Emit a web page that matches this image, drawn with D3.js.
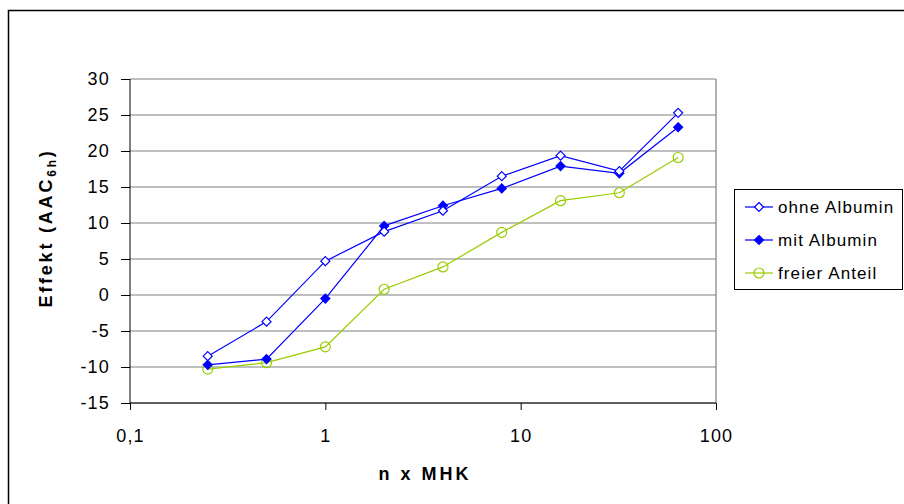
<!DOCTYPE html>
<html>
<head>
<meta charset="utf-8">
<script src="https://cdn.jsdelivr.net/npm/d3@7"></script>
<style>
  body { margin: 0; background: #fff; }
  svg { display: block; font-family: Arial, "Liberation Sans", sans-serif; }
</style>
</head>
<body>
<div id="chart"></div>
<script>
let xValues = [0.25, 0.5, 1, 2, 4, 8, 16, 32, 64];                             //n x MHK
let ohneAlbumin = [-8.5, -3.7, 4.7, 8.8, 11.7, 16.5, 19.35, 17.2, 25.3];        //offene Rauten
let mitAlbumin = [-9.7, -8.9, -0.5, 9.6, 12.4, 14.8, 17.9, 16.9, 23.3];         //gefüllte Rauten
let freierAnteil = [-10.3, -9.4, -7.2, 0.8, 3.9, 8.7, 13.1, 14.2, 19.1];        //Kreise
let seriesNames = ["ohne Albumin", "mit Albumin", "freier Anteil"];
let yTicks = [-15, -10, -5, 0, 5, 10, 15, 20, 25, 30];
let xTicks = [0.1, 1, 10, 100];
let xTickLabels = ["0,1", "1", "10", "100"];

let width = 904;
let height = 504;
let plotLeft = 130, plotRight = 716, plotTop = 79, plotBottom = 403;

let blue = "#0000ff";
let green = "#99cc00";
let font = "Arial, 'Liberation Sans', sans-serif";

let svg = d3.select("#chart")
  .append("svg")
  .attr("width", width)
  .attr("height", height);

//frame around the whole chart
svg.append("rect")
  .attr("x", 8.5)
  .attr("y", 10.5)
  .attr("width", 920)
  .attr("height", 520)
  .attr("fill", "none")
  .attr("stroke", "#000")
  .attr("stroke-width", 1.5);

let X = d3.scaleLog()
  .domain([0.1, 100])
  .range([plotLeft, plotRight]);

let Y = d3.scaleLinear()
  .domain([-15, 30])
  .range([plotBottom, plotTop]);

//horizontal gridlines
svg.selectAll("line.grid")
  .data(yTicks)
  .enter()
  .append("line")
  .attr("class", "grid")
  .attr("x1", plotLeft)
  .attr("x2", plotRight)
  .attr("y1", d => Y(d))
  .attr("y2", d => Y(d))
  .attr("stroke", "#808080")
  .attr("stroke-width", 1.2);

//right border of plot area
svg.append("line")
  .attr("x1", plotRight).attr("x2", plotRight)
  .attr("y1", plotTop).attr("y2", plotBottom)
  .attr("stroke", "#808080")
  .attr("stroke-width", 1.2);

//y axis
let yAxis = d3.axisLeft(Y)
  .tickValues(yTicks)
  .tickSize(9)
  .tickPadding(11)
  .tickFormat(d => d);

let gy = svg.append("g")
  .attr("transform", "translate(" + plotLeft + ",0)")
  .call(yAxis);
gy.select(".domain").attr("stroke", "#000").attr("d", "M0," + plotTop + "V" + plotBottom);
gy.selectAll("text")
  .attr("font-size", 18)
  .attr("letter-spacing", 1.2)
  .attr("fill", "#000")
  .attr("font-family", font);

//x axis
let xAxis = d3.axisBottom(X)
  .tickValues(xTicks)
  .tickSize(7)
  .tickPadding(19)
  .tickFormat((d, i) => xTickLabels[i]);

let gx = svg.append("g")
  .attr("transform", "translate(0," + plotBottom + ")")
  .call(xAxis);
gx.select(".domain").attr("stroke", "#000").attr("d", "M" + plotLeft + ",0H" + plotRight);
gx.selectAll("text")
  .attr("font-size", 18)
  .attr("letter-spacing", 1.2)
  .attr("fill", "#000")
  .attr("font-family", font);

//axis titles
svg.append("text")
  .attr("x", (plotLeft + plotRight) / 2 + 2)
  .attr("y", 480)
  .attr("text-anchor", "middle")
  .attr("font-size", 18)
  .attr("letter-spacing", 3)
  .attr("font-weight", "bold")
  .text("n x MHK");

let yTitle = svg.append("text")
  .attr("transform", "translate(52,228) rotate(-90)")
  .attr("text-anchor", "middle")
  .attr("font-size", 18)
  .attr("letter-spacing", 2.8)
  .attr("font-weight", "bold");
yTitle.append("tspan").text("Effekt (AAC");
yTitle.append("tspan").attr("font-size", 12).attr("dy", 4).text("6h");
yTitle.append("tspan").attr("dy", -4).text(")");

//series
let series = [
  { name: seriesNames[0], values: ohneAlbumin, color: blue, marker: "diamondOpen" },
  { name: seriesNames[1], values: mitAlbumin, color: blue, marker: "diamondFilled" },
  { name: seriesNames[2], values: freierAnteil, color: green, marker: "circle" }
];

let line = d3.line()
  .x((d, i) => X(xValues[i]))
  .y(d => Y(d));

function drawMarker(g, type, color, cx, cy)
{
  if (type == "circle")
  {
    g.append("circle")
      .attr("cx", cx).attr("cy", cy).attr("r", 5)
      .attr("fill", "none")
      .attr("stroke", color)
      .attr("stroke-width", 1.2);
  }
  else
  {
    let s = 4.5;
    g.append("path")
      .attr("d", "M" + cx + "," + (cy - s) + "L" + (cx + s) + "," + cy + "L" + cx + "," + (cy + s) + "L" + (cx - s) + "," + cy + "Z")
      .attr("fill", type == "diamondFilled" ? color : "#fff")
      .attr("stroke", color)
      .attr("stroke-width", 1.2);
  }
}

//draw in reverse order so "ohne Albumin" is on top
series.slice().reverse().forEach(s =>
{
  let g = svg.append("g");
  g.append("path")
    .datum(s.values)
    .attr("d", line)
    .attr("fill", "none")
    .attr("stroke", s.color)
    .attr("stroke-width", 1.2);
  s.values.forEach((v, i) => drawMarker(g, s.marker, s.color, X(xValues[i]), Y(v)));
});

//legend
let lx = 734.5, ly = 189.5;
svg.append("rect")
  .attr("x", lx)
  .attr("y", ly)
  .attr("width", 168)
  .attr("height", 100)
  .attr("fill", "#fff")
  .attr("stroke", "#000")
  .attr("stroke-width", 1);

series.forEach((s, i) =>
{
  let yy = 207 + i * 33;
  let g = svg.append("g");
  g.append("line")
    .attr("x1", 745).attr("x2", 773)
    .attr("y1", yy).attr("y2", yy)
    .attr("stroke", s.color)
    .attr("stroke-width", 1.2);
  drawMarker(g, s.marker, s.color, 759, yy);
  g.append("text")
    .attr("x", 778)
    .attr("y", yy + 6)
    .attr("font-size", 17)
    .attr("letter-spacing", 1.1)
    .attr("fill", "#000")
    .attr("font-family", font)
    .text(s.name);
});
</script>
</body>
</html>
